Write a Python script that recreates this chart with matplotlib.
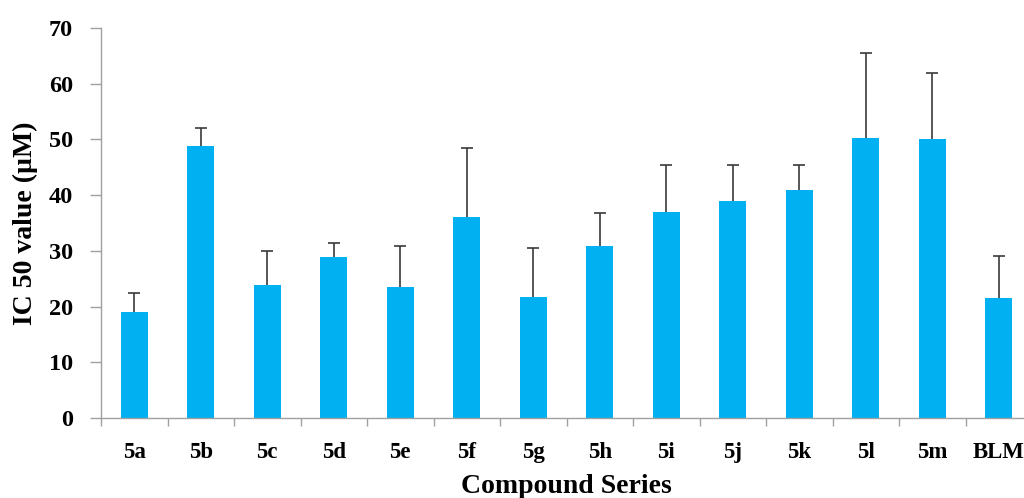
import matplotlib
matplotlib.use("Agg")
import matplotlib.pyplot as plt
import numpy as np

categories = ["5a", "5b", "5c", "5d", "5e", "5f", "5g", "5h", "5i", "5j", "5k", "5l", "5m", "BLM"]
ic50 = [19.0, 48.9, 23.8, 28.9, 23.5, 36.0, 21.8, 30.9, 37.0, 39.0, 41.0, 50.2, 50.0, 21.6]
err_top = [22.4, 52.1, 30.0, 31.4, 30.8, 48.5, 30.6, 36.8, 45.4, 45.4, 45.4, 65.6, 61.9, 29.0]
yticks = [0, 10, 20, 30, 40, 50, 60, 70]

plt.rcParams['font.family'] = ['Liberation Serif', 'DejaVu Serif']
plt.rcParams['font.weight'] = 'bold'

fig = plt.figure(figsize=(10.24, 4.98), dpi=100)
ax = fig.add_axes([101/1024, 80/498, 931/1024, 390/498])

x = np.arange(len(categories))
yerr = np.array(err_top) - np.array(ic50)
ax.bar(x, ic50, width=0.41, color='#00B0F0', zorder=2)
_, caps, _ = ax.errorbar(x, ic50, yerr=[np.zeros_like(yerr), yerr], fmt='none',
                         ecolor='#3a3a3a', elinewidth=1.2, capsize=4, capthick=1.2, zorder=3)
caps[0].set_visible(False)

ax.set_xlim(-0.5, len(categories) - 0.5)
ax.set_ylim(0, 70)
ax.set_yticks(yticks)
ax.set_yticklabels([str(v) for v in yticks], fontsize=17.5, fontweight='bold')
ax.set_xticks(x)
ax.set_xticklabels(categories, fontsize=16.5, fontweight='bold')
ax.tick_params(axis='x', length=0, pad=17)
ax.set_xticks(np.arange(len(categories) + 1) - 0.5, minor=True)
ax.tick_params(axis='x', which='minor', length=6, color='#a0a0a0', width=1.0)
ax.tick_params(axis='y', length=8, color='#a0a0a0', width=1.0, pad=12)

for s in ['top', 'right']:
    ax.spines[s].set_visible(False)
for s in ['left', 'bottom']:
    ax.spines[s].set_color('#a0a0a0')
    ax.spines[s].set_linewidth(1.0)

ax.set_ylabel('IC 50 value (µM)', fontsize=20, fontweight='bold', labelpad=8)
ax.set_xlabel('Compound Series', fontsize=20, fontweight='bold', labelpad=8)

fig.savefig('out.png', dpi=100)
